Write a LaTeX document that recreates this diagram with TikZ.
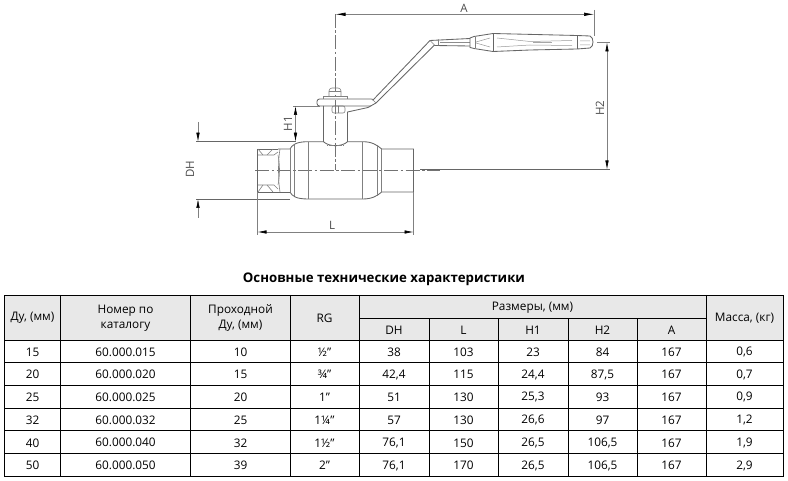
\documentclass[tikz,border=0pt]{standalone}
\usepackage{fontspec}
\setmainfont{Open Sans}
\usetikzlibrary{arrows.meta}
\tikzset{
 dwg/.style={draw=black!50,line width=.6pt},
 thick dwg/.style={draw=black!60,line width=.85pt},
 dim/.style={draw=black!50,line width=.6pt},
 dimarr/.style={dim,{Latex[length=9pt,width=3.5pt,black]}-{Latex[length=9pt,width=3.5pt,black]}},
 centre/.style={draw=black!55,line width=.5pt,dash pattern=on 14pt off 2.5pt on 2.5pt off 2.5pt},
 dimtext/.style={text=black!70,font=\fontsize{11.5}{12}\selectfont,inner sep=0pt},
 grid/.style={draw=black,line width=.9pt},
 cell/.style={font=\fontsize{11.8}{15.5}\selectfont,align=center,inner sep=0pt,text=black}
}
\begin{document}
\begin{tikzpicture}[x=1pt,y=-1pt]
\useasboundingbox (0,0) rectangle (788,481);
% centre lines
\draw[centre] (335.5,14) -- (335.5,170);
\draw[centre] (255,170) -- (440,170);
% body
\draw[thick dwg] (278,149) -- (257.5,149) -- (257.5,192) -- (290,192);
\draw[thick dwg] (278,149) -- (290,149) .. controls (292,145) and (296,141.7) .. (308,141.7) -- (323.5,141.7);
\draw[thick dwg] (290,192) .. controls (292,196) and (296,199) .. (308,199) -- (362.7,199) .. controls (372,199) and (377,196) .. (381.7,192) -- (413.5,192) -- (413.5,149) -- (381.7,149) .. controls (377,145) and (372,141.7) .. (362.7,141.7) -- (347.5,141.7);
\draw[dwg] (290,149) -- (290,192) (294,145) -- (294,196) (308,141.7) -- (308,199) (362.7,141.7) -- (362.7,199) (377,145) -- (377,196) (381.7,149) -- (381.7,192);
% socket
\draw[dwg] (258,155) -- (274,155) -- (278,152) (258,185) -- (274,185) -- (278,189) (278,155) .. controls (280,165) and (280,175) .. (278,185);
\draw[dwg] (258,149) -- (263,155) (258,192) -- (263,185) (267,155) -- (273,149) (267,185) -- (273,192);
\draw[dwg] (280,149) .. controls (278,160) and (278,180) .. (280,192);
% stem
\draw[thick dwg] (323.5,106) -- (323.5,141.7) .. controls (329,147) and (342,147) .. (347.5,141.7) -- (347.5,112);
\draw[dwg,densely dotted] (327,145.5) -- (344,145.5);
% flange, bolt
\draw[dwg,rounded corners=2pt] (332,106) rectangle (345,113);
\draw[dwg] (338,106) -- (338,113);
\draw[thick dwg,rounded corners=2.5pt] (371.7,99) -- (317,99) -- (317,106) -- (371,106);
\draw[dwg] (323,99) -- (323,96.5) -- (347.5,96.5) -- (347.5,99);
\draw[dwg,rounded corners=3pt] (329,96.5) -- (329,88) -- (341,88) -- (341,96.5);
\draw[dwg] (329,91.5) -- (341,91.5);
% lever
\draw[thick dwg] (347.5,112) -- (368,107.5) -- (376,103) -- (434,45.5) -- (470,46);
\draw[thick dwg] (371.7,99) -- (373,100) -- (430,40.5) -- (470,38.5);
\draw[dwg] (372,99) -- (376,103);
\draw[dwg] (430,40.5) -- (435,45.5) (438.5,39.5) -- (438.5,45.5);
\draw[draw=black!45,line width=1.4pt] (440,42.8) -- (470,42.8);
% grip
\draw[thick dwg] (470,38) -- (474,36.5) -- (493,33.5) -- (577,35.5) -- (590,36) .. controls (594,37) and (594,47) .. (590,48) -- (577,49) -- (530,50) -- (493,51.5) -- (474,48.5) -- (470,47.5) -- cycle;
\draw[thick dwg] (493,33.5) -- (493,51.5) (577,35.5) -- (577,49);
\draw[dwg] (475,37) -- (475,48);
\draw[draw=black!40,line width=.5pt] (476,42) -- (490,38) (476,43) -- (490,47) (497,38) -- (530,41.5) -- (572,40.5) (497,47) -- (530,45) -- (572,45.5) (580,41) -- (590,41) (580,45) -- (590,45);
\draw[draw=black!35,line width=1pt] (533,43) -- (552,43);
% dimensions
\coordinate (Adl) at (335.5,14.3); \coordinate (Adr) at (594,14.3);
\draw[dim,{Latex[length=10pt,width=3.5pt,black]}-{Latex[length=10pt,width=3.5pt,black]}] (Adl) -- (Adr);
\draw[dim] (594,10) -- (594,36);
\node[dimtext] (labA) at (464,8) {A};
\draw[dim] (597,42.5) -- (610,42.5);
\draw[thick dwg] (420,169.5) -- (610,169.5);
\draw[dimarr] (607,42.5) -- (607,169.5);
\node[dimtext,rotate=90] (labH2) at (600,108) {H2};
\draw[dim] (293,106) -- (320,106);
\draw[dimarr] (295.5,106) -- (295.5,141.7);
\node[dimtext,rotate=90] (labH1) at (288,123.5) {H1};
\draw[thick dwg] (196,141.7) -- (296,141.7);
\draw[thick dwg] (196,199) -- (290,199);
\draw[dim,-{Latex[length=9pt,width=3.5pt,black]}] (198,122) -- (198,141.7);
\draw[dim,-{Latex[length=9pt,width=3.5pt,black]}] (198,218) -- (198,199);
\node[dimtext,rotate=90] (labDH) at (190,169.5) {DH};
\draw[dim] (257.5,192) -- (257.5,235) (413.5,192) -- (413.5,235);
\draw[dimarr] (257.5,232) -- (413.5,232);
\node[dimtext] (labL) at (332,225.5) {L};
% title
\node[font=\fontsize{13.25}{15}\selectfont\bfseries,inner sep=0pt] (title) at (384,279.5) {Основные технические характеристики};
% table fill
\fill[black!9] (4,295) rectangle (783,340);
% rules
\draw[grid] (4,295) rectangle (783,476);
\foreach \y in {340,362.7,385.4,408.1,430.8,453.5} \draw[grid] (4,\y) -- (783,\y);
\draw[grid] (359,318.5) -- (706,318.5);
\foreach \x in {60.5,190.5,290.5,359,706} \draw[grid] (\x,295) -- (\x,476);
\foreach \x in {429,498,568,637} \draw[grid] (\x,318.5) -- (\x,476);
% header
\node[cell] (h1) at (32.5,317.5) {Ду, (мм)};
\node[cell] (h2) at (125.5,318) {Номер по\\каталогу};
\node[cell] (h3) at (240.5,318) {Проходной\\Ду, (мм)};
\node[cell] (h4) at (324.5,318) {RG};
\node[cell] (h5) at (532.5,307.5) {Размеры, (мм)};
\node[cell] (h6) at (394,330) {DH};
\node[cell] (h7) at (463.5,330) {L};
\node[cell] (h8) at (533,330) {H1};
\node[cell] (h9) at (602.5,330) {H2};
\node[cell] (h10) at (671.5,330) {A};
\node[cell] (h11) at (744.5,318) {Масса, (кг)};
% rows
\foreach \n/\y/\a/\b/\c/\d/\e/\f/\g/\h/\i/\j in {
 1/352/15/60.000.015/10/½"/38/103/23/84/167/{0,6},
 2/374.7/20/60.000.020/15/¾"/{42,4}/115/{24,4}/{87,5}/167/{0,7},
 3/397.4/25/60.000.025/20/1"/51/130/{25,3}/93/167/{0,9},
 4/420.1/32/60.000.032/25/1¼"/57/130/{26,6}/97/167/{1,2},
 5/442.8/40/60.000.040/32/1½"/{76,1}/150/{26,5}/{106,5}/167/{1,9},
 6/465.5/50/60.000.050/39/2"/{76,1}/170/{26,5}/{106,5}/167/{2,9}}{
  \node[cell] (r\n a) at (32.5,\y) {\a};
  \node[cell] (r\n b) at (125.5,\y) {\b};
  \node[cell] (r\n c) at (240.5,\y) {\c};
  \node[cell] (r\n d) at (324.5,\y) {\d};
  \node[cell] (r\n e) at (394,\y) {\e};
  \node[cell] (r\n f) at (463.5,\y) {\f};
  \node[cell] (r\n g) at (533,\y) {\g};
  \node[cell] (r\n h) at (602.5,\y) {\h};
  \node[cell] (r\n i) at (671.5,\y) {\i};
  \node[cell] (r\n j) at (744.5,\y) {\j};
}
\end{tikzpicture}
\end{document}
